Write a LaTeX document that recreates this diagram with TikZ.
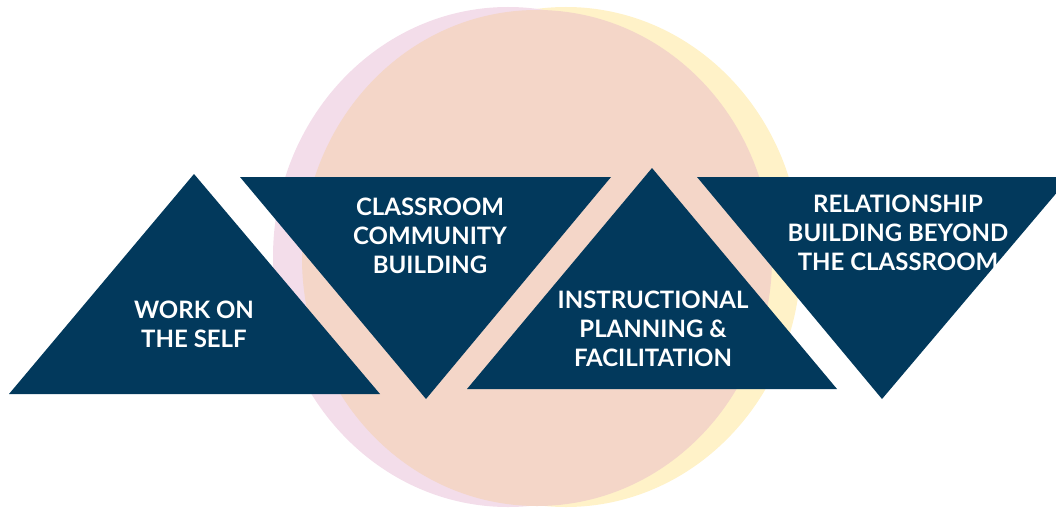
\documentclass[tikz,border=0pt]{standalone}
\usepackage{fontspec}
\setmainfont{Lato}
\definecolor{navy}{RGB}{2,57,92}
\definecolor{peach}{RGB}{244,214,200}
\definecolor{pinkc}{RGB}{243,221,234}
\definecolor{yellowc}{RGB}{255,242,200}
\tikzset{
  tri/.style={fill=navy},
  lbl/.style={text=white,font=\fontsize{24}{29}\selectfont\bfseries,align=center,inner sep=0pt}
}
\begin{document}
\begin{tikzpicture}[x=1pt,y=-1pt]
\useasboundingbox (0,0) rectangle (1056,508);
\clip (0,0) rectangle (1056,508);
% circles
\fill[yellowc] (566,257) ellipse [x radius=235, y radius=250];
\fill[pinkc] (508,257) ellipse [x radius=235, y radius=250];
\fill[peach] (537,258) ellipse [x radius=235, y radius=248];
% triangles
\fill[tri] (9,394) -- (380,394) -- (194,174) -- cycle;
\fill[tri] (240,177) -- (611,177) -- (426,399) -- cycle;
\fill[tri] (467,389) -- (837,389) -- (652,168) -- cycle;
\fill[tri] (697,177) -- (1070,177) -- (882,399) -- cycle;
% labels
\node[lbl] (t1) at (194,324) {WORK ON\\THE SELF};
\node[lbl] (t2) at (430,236) {CLASSROOM\\COMMUNITY\\BUILDING};
\node[lbl] (t3) at (653,329) {INSTRUCTIONAL\\PLANNING \&\\FACILITATION};
\node[lbl] (t4) at (898,233) {RELATIONSHIP\\BUILDING BEYOND\\THE CLASSROOM};
\end{tikzpicture}
\end{document}
